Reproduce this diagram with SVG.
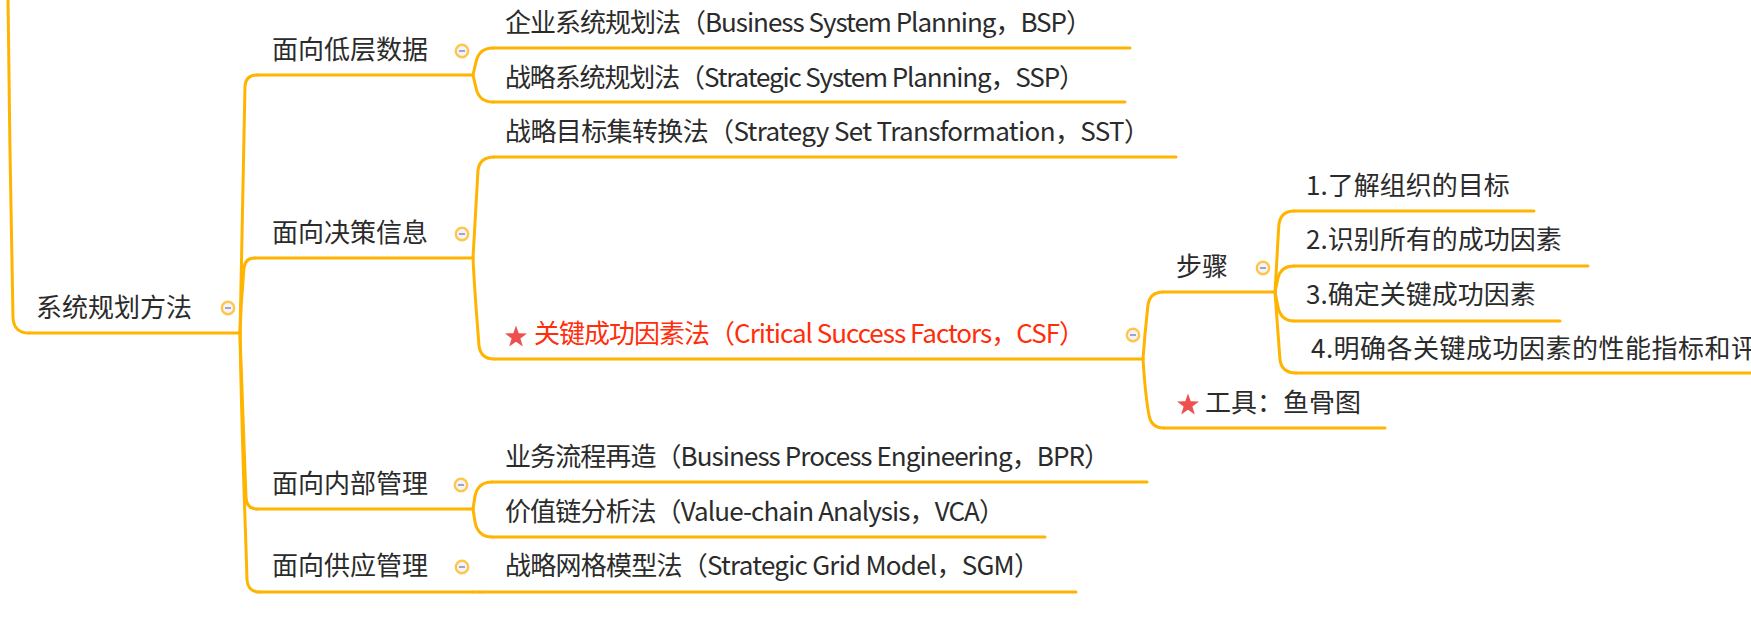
<svg xmlns="http://www.w3.org/2000/svg" width="1751" height="619" viewBox="0 0 1751 619">
<style>
text{font-family:'Noto Sans CJK SC','Noto Sans',sans-serif;font-size:26px;fill:#2b2b2b}
text.red{fill:#FF2D0A}
.ln{fill:none;stroke:#FFB400;stroke-width:3;stroke-linecap:round;stroke-linejoin:round}
.btn circle{fill:#F4F4F8;stroke:#FFC64D;stroke-width:2.4}
.btn line{stroke:#8A93B8;stroke-width:1.6}
.star{fill:#EE5050}
</style>
<defs>
<g id="btn" class="btn"><circle cx="0" cy="0" r="6.2"/><line x1="-3" y1="0" x2="3" y2="0"/></g>
<polygon id="star" class="star" points="0,-11.5 2.7,-3.8 11,-3.6 4.4,1.5 6.8,9.5 0,4.7 -6.8,9.5 -4.4,1.5 -11,-3.6 -2.7,-3.8"/>
</defs>
<g id="connectors" class="ln">
<path d="M8 -2 C9 100 11 220 13 318 Q14 333 29 333"/>
<path d="M240 333 C242 240 244 140 245 86 Q246 75 257 75"/>
<path d="M240 333 C241 300 243 280 244 268 Q245 258 255 258"/>
<path d="M240 333 C242 400 245 470 246 498 Q247 509 257 509"/>
<path d="M240 333 C242 450 246 540 247 580 Q248 592 260 592"/>
<path d="M473 75 L476 62 Q479 48 493 48"/>
<path d="M473 75 L476 88 Q479 102 493 102"/>
<path d="M473 258 C475 220 477 185 478 170 Q480 157 494 157"/>
<path d="M473 258 C475 300 478 330 479 346 Q481 359 494 359"/>
<path d="M473 509 L475 496 Q478 482 492 482"/>
<path d="M473 509 L475 522 Q478 537 492 537"/>
<path d="M473 592 L480 592"/>
<path d="M1143 359 C1145 330 1147 315 1148 305 Q1150 292 1163 292"/>
<path d="M1143 359 C1145 390 1147 405 1149 415 Q1151 428 1164 428"/>
<path d="M1275 292 C1277 260 1278 235 1279 224 Q1281 211 1294 211"/>
<path d="M1275 292 L1278 278 Q1281 266 1294 266"/>
<path d="M1275 292 L1278 307 Q1281 321 1294 321"/>
<path d="M1275 292 C1277 320 1279 345 1280 360 Q1282 373 1296 373"/>
</g>
<g id="root">
<line class="ln" x1="29" y1="333" x2="240" y2="333"/>
<text x="36" y="317">系统规划方法</text>
<use href="#btn" x="228" y="308"/>
</g>
<g id="n-dicengshuju">
<line class="ln" x1="257" y1="75" x2="473" y2="75"/>
<text x="272" y="59">面向低层数据</text>
<use href="#btn" x="462" y="51"/>
</g>
<g id="n-juece">
<line class="ln" x1="255" y1="258" x2="473" y2="258"/>
<text x="272" y="242">面向决策信息</text>
<use href="#btn" x="462" y="234"/>
</g>
<g id="n-neibu">
<line class="ln" x1="257" y1="509" x2="473" y2="509"/>
<text x="272" y="493">面向内部管理</text>
<use href="#btn" x="461" y="485"/>
</g>
<g id="n-gongying">
<line class="ln" x1="260" y1="592" x2="473" y2="592"/>
<text x="272" y="575">面向供应管理</text>
<use href="#btn" x="462" y="567"/>
</g>
<g id="n-bsp">
<line class="ln" x1="493" y1="48" x2="1130" y2="48"/>
<text x="505" y="32" textLength="587" lengthAdjust="spacing">企业系统规划法（Business System Planning，BSP）</text>
</g>
<g id="n-ssp">
<line class="ln" x1="493" y1="102" x2="1125" y2="102"/>
<text x="505" y="87" textLength="580" lengthAdjust="spacing">战略系统规划法（Strategic System Planning，SSP）</text>
</g>
<g id="n-sst">
<line class="ln" x1="494" y1="157" x2="1176" y2="157"/>
<text x="505" y="141" textLength="645" lengthAdjust="spacing">战略目标集转换法（Strategy Set Transformation，SST）</text>
</g>
<g id="n-csf">
<line class="ln" x1="494" y1="359" x2="1143" y2="359"/>
<use href="#star" x="516" y="337"/>
<text class="red" x="534" y="343" textLength="551" lengthAdjust="spacing">关键成功因素法（Critical Success Factors，CSF）</text>
<use href="#btn" x="1133" y="335"/>
</g>
<g id="n-bpr">
<line class="ln" x1="492" y1="482" x2="1147" y2="482"/>
<text x="505" y="466" textLength="605" lengthAdjust="spacing">业务流程再造（Business Process Engineering，BPR）</text>
</g>
<g id="n-vca">
<line class="ln" x1="492" y1="537" x2="1045" y2="537"/>
<text x="505" y="521" textLength="500" lengthAdjust="spacing">价值链分析法（Value-chain Analysis，VCA）</text>
</g>
<g id="n-sgm">
<line class="ln" x1="480" y1="592" x2="1076" y2="592"/>
<text x="505" y="575" textLength="535" lengthAdjust="spacing">战略网格模型法（Strategic Grid Model，SGM）</text>
</g>
<g id="n-buzhou">
<line class="ln" x1="1163" y1="292" x2="1275" y2="292"/>
<text x="1176" y="276">步骤</text>
<use href="#btn" x="1263" y="268"/>
</g>
<g id="n-gongju">
<line class="ln" x1="1164" y1="428" x2="1385" y2="428"/>
<use href="#star" x="1188" y="405"/>
<text x="1205" y="412">工具：鱼骨图</text>
</g>
<g id="n-step1">
<line class="ln" x1="1294" y1="211" x2="1534" y2="211"/>
<text x="1306" y="195">1.了解组织的目标</text>
</g>
<g id="n-step2">
<line class="ln" x1="1294" y1="266" x2="1588" y2="266"/>
<text x="1306" y="249">2.识别所有的成功因素</text>
</g>
<g id="n-step3">
<line class="ln" x1="1294" y1="321" x2="1560" y2="321"/>
<text x="1306" y="304">3.确定关键成功因素</text>
</g>
<g id="n-step4">
<line class="ln" x1="1296" y1="373" x2="1760" y2="373"/>
<text x="1311" y="358" textLength="446" lengthAdjust="spacing">4.明确各关键成功因素的性能指标和评</text>
</g>
</svg>
